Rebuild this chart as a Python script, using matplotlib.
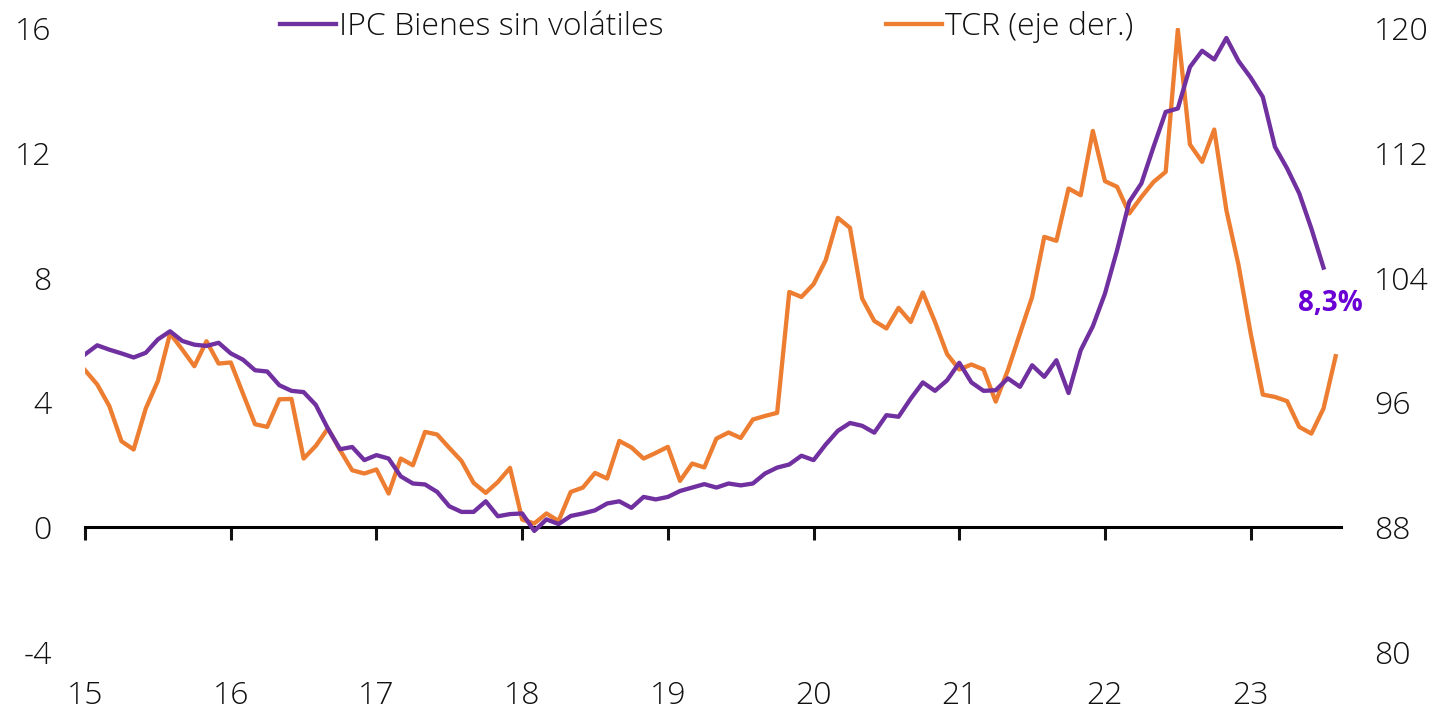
import matplotlib
matplotlib.use("Agg")
import matplotlib.pyplot as plt
import numpy as np

# IPC bienes sin volatiles (% a/a), ene-2015 .. jul-2023, eje izquierdo
ipc = [
    5.54, 5.83, 5.69, 5.57, 5.44, 5.59, 6.02, 6.28, 5.97, 5.85, 5.81, 5.91,
    5.57, 5.37, 5.03, 4.99, 4.55, 4.37, 4.33, 3.92, 3.16, 2.50, 2.57, 2.15,
    2.31, 2.20, 1.63, 1.40, 1.37, 1.13, 0.67, 0.49, 0.49, 0.83, 0.35, 0.42,
    0.44, -0.12, 0.25, 0.10, 0.36, 0.44, 0.54, 0.76, 0.83, 0.62, 0.97, 0.89,
    0.97, 1.16, 1.27, 1.38, 1.27, 1.40, 1.34, 1.40, 1.72, 1.91, 2.01, 2.29,
    2.15, 2.65, 3.09, 3.34, 3.25, 3.03, 3.59, 3.54, 4.12, 4.64, 4.37, 4.71,
    5.27, 4.64, 4.37, 4.39, 4.77, 4.50, 5.19, 4.82, 5.35, 4.30, 5.67, 6.44,
    7.49, 8.88, 10.43, 11.02, 12.19, 13.31, 13.42, 14.75, 15.27, 14.99, 15.68, 14.94,
    14.41, 13.79, 12.19, 11.50, 10.70, 9.57, 8.32,
]

# TCR, ene-2015 .. ago-2023, eje derecho
tcr = [
    98.06, 97.15, 95.76, 93.51, 92.98, 95.61, 97.38, 100.42, 99.39, 98.32, 99.92, 98.49,
    98.56, 96.57, 94.60, 94.43, 96.20, 96.22, 92.40, 93.21, 94.33, 92.94, 91.65, 91.44,
    91.70, 90.16, 92.40, 91.97, 94.11, 93.94, 93.08, 92.25, 90.84, 90.20, 90.90, 91.80,
    88.49, 88.24, 88.88, 88.40, 90.26, 90.54, 91.48, 91.12, 93.53, 93.11, 92.40, 92.76,
    93.15, 90.97, 92.08, 91.83, 93.68, 94.07, 93.72, 94.90, 95.13, 95.33, 103.08, 102.76,
    103.58, 105.12, 107.83, 107.19, 102.66, 101.22, 100.74, 102.06, 101.16, 103.04, 101.16, 99.09,
    98.11, 98.43, 98.11, 96.05, 98.06, 100.42, 102.76, 106.61, 106.36, 109.71, 109.28, 113.40,
    110.18, 109.82, 108.11, 109.17, 110.13, 110.78, 119.90, 112.53, 111.42, 113.49, 108.32, 104.80,
    100.42, 96.50, 96.35, 96.08, 94.43, 94.00, 95.61, 98.96,
]

years = [15, 16, 17, 18, 19, 20, 21, 22, 23]
last_label = "8,3%"

PURPLE = "#7030A0"
ORANGE = "#ED7D31"
LABEL_PURPLE = "#6A00D4"
FS = 23

plt.rcParams["font.family"] = ["Open Sans", "DejaVu Sans"]
plt.rcParams["font.weight"] = "light"
plt.rcParams["font.size"] = FS
plt.rcParams["axes.unicode_minus"] = False
plt.rcParams["text.color"] = "#111111"
plt.rcParams["xtick.color"] = "#111111"
plt.rcParams["ytick.color"] = "#111111"

x_ipc = 15 + np.arange(len(ipc)) / 12
x_tcr = 15 + np.arange(len(tcr)) / 12

fig = plt.figure(figsize=(14.37, 7.16), dpi=100)
ax = fig.add_axes([0.0592, 0.0894, 0.874, 0.8715])
ax2 = ax.twinx()

ax.plot(x_ipc, ipc, color=PURPLE, lw=3.1, label="IPC Bienes sin volátiles", zorder=3)
ax2.plot(x_tcr, tcr, color=ORANGE, lw=3.1, label="TCR (eje der.)", zorder=2)

ax.set_xlim(15, 23.62)
ax.set_ylim(-4, 16)
ax.set_yticks([-4, 0, 4, 8, 12, 16])
ax2.set_ylim(80, 120)
ax2.set_yticks([80, 88, 96, 104, 112, 120])

ax.set_zorder(ax2.get_zorder() + 1)
ax.patch.set_visible(False)

for a in (ax, ax2):
    for s in ("top", "left", "right"):
        a.spines[s].set_visible(False)
ax2.spines["bottom"].set_visible(False)

# eje x cruza en cero, etiquetas abajo
ax.spines["bottom"].set_position(("data", 0))
ax.spines["bottom"].set_linewidth(2.2)
ax.set_xticks(years)
ax.tick_params(axis="x", direction="out", length=9, width=2.2, labelbottom=False)
sec = ax.secondary_xaxis(0.0)
sec.set_xticks(years)
sec.set_xticklabels([str(y) for y in years])
sec.tick_params(length=0, pad=20, labelsize=FS)
sec.spines["bottom"].set_visible(False)

ax.tick_params(axis="y", length=0, pad=24, labelsize=FS)
ax2.tick_params(axis="y", length=0, pad=24, labelsize=FS)

ax.annotate(last_label, xy=(x_ipc[-1], ipc[-1]), xytext=(5, -26),
            textcoords="offset points", ha="center", va="center",
            color=LABEL_PURPLE, fontsize=20, fontweight="bold")

h1, l1 = ax.get_legend_handles_labels()
h2, l2 = ax2.get_legend_handles_labels()
fig.legend(h1 + h2, l1 + l2, loc="upper left", bbox_to_anchor=(0.175, 1.025),
           ncol=2, frameon=False, handlelength=1.75, handletextpad=0.1,
           columnspacing=6.95, fontsize=FS)

fig.savefig("out.png", dpi=100)
